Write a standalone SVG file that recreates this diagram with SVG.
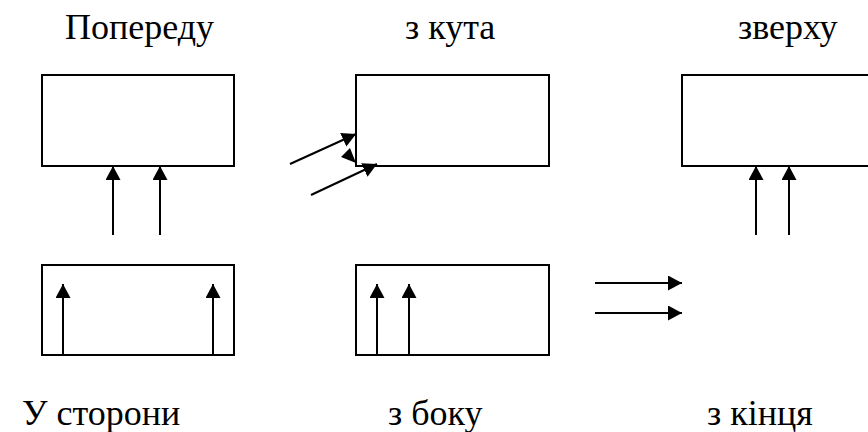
<svg xmlns="http://www.w3.org/2000/svg" width="868" height="432" viewBox="0 0 868 432">
  <defs>
    <marker id="head" markerUnits="userSpaceOnUse" markerWidth="15" markerHeight="16" refX="14" refY="7.5" orient="auto">
      <path d="M0,0 L14,7.5 L0,15 z" fill="#000"/>
    </marker>
  </defs>
  <style>
    .box { fill: #fff; stroke: #000; stroke-width: 2; }
    .arr { stroke: #000; stroke-width: 2; fill: none; marker-end: url(#head); }
    text { font-family: "Liberation Serif", Tinos, "Times New Roman", Times, "DejaVu Serif", "Noto Serif", FreeSerif, serif; font-size: 36px; fill: #000; }
  </style>
  <rect width="868" height="432" fill="#fff"/>

  <g id="front">
    <rect class="box" x="42" y="75" width="192" height="91"/>
    <text x="65" y="39">Попереду</text>
  </g>
  <g id="corner">
    <rect class="box" x="356" y="75" width="193" height="91"/>
    <text x="405" y="39">з кута</text>
  </g>
  <g id="top">
    <rect class="box" x="682" y="75" width="193" height="91"/>
    <text x="738" y="39">зверху</text>
  </g>
  <g id="aside">
    <rect class="box" x="42" y="265" width="192" height="90"/>
    <text x="22" y="425">У сторони</text>
  </g>
  <g id="side">
    <rect class="box" x="356" y="265" width="193" height="90"/>
    <text x="388" y="425">з боку</text>
  </g>
  <g id="end">
    <text x="707" y="425">з кінця</text>
  </g>

  <g id="connectors">
    <!-- under the front box -->
    <line class="arr" x1="113" y1="235" x2="113" y2="166"/>
    <line class="arr" x1="160" y1="235" x2="160" y2="166"/>
    <!-- toward the corner -->
    <line class="arr" x1="290" y1="164" x2="356" y2="134"/>
    <line class="arr" x1="311" y1="195" x2="377" y2="164"/>
    <polygon points="341,157 350,148 356,163" fill="#000"/>
    <!-- under the top box -->
    <line class="arr" x1="756" y1="235" x2="756" y2="166"/>
    <line class="arr" x1="789" y1="235" x2="789" y2="166"/>
    <!-- inside the aside box -->
    <line class="arr" x1="63" y1="355" x2="63" y2="284"/>
    <line class="arr" x1="213" y1="355" x2="213" y2="284"/>
    <!-- inside the side box -->
    <line class="arr" x1="377" y1="355" x2="377" y2="284"/>
    <line class="arr" x1="409" y1="355" x2="409" y2="284"/>
    <!-- end view -->
    <line class="arr" x1="595" y1="283" x2="682" y2="283"/>
    <line class="arr" x1="595" y1="313" x2="682" y2="313"/>
  </g>
</svg>
